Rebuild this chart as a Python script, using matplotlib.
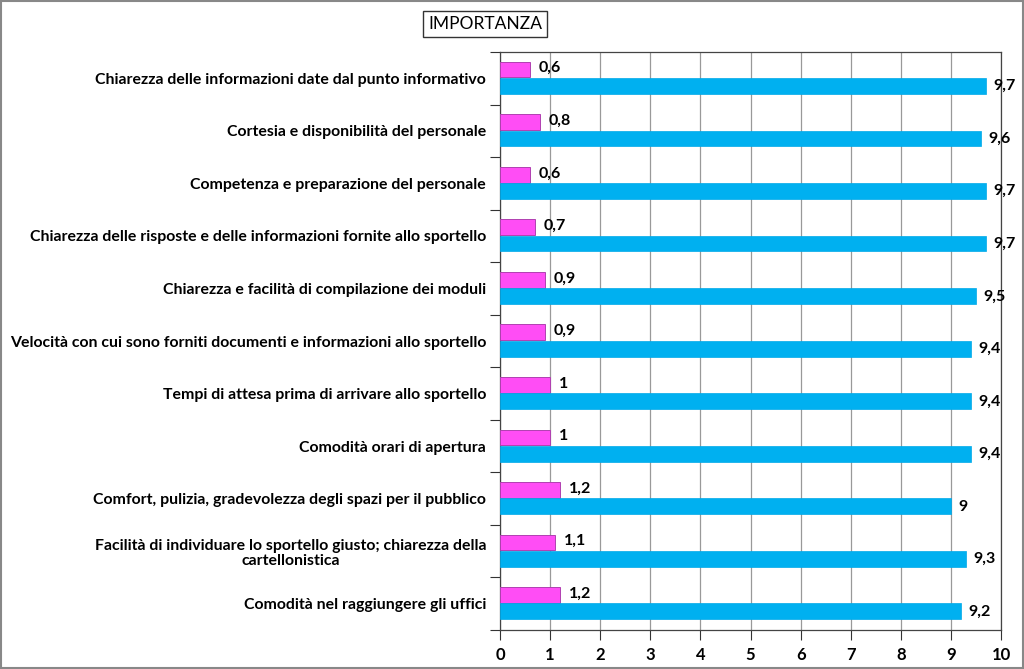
import matplotlib
matplotlib.use("Agg")
import matplotlib.pyplot as plt
import numpy as np
from matplotlib.patches import Rectangle

categories = [
    "Chiarezza delle informazioni date dal punto informativo",
    "Cortesia e disponibilità del personale",
    "Competenza e preparazione del personale",
    "Chiarezza delle risposte e delle informazioni fornite allo sportello",
    "Chiarezza e facilità di compilazione dei moduli",
    "Velocità con cui sono forniti documenti e informazioni allo sportello",
    "Tempi di attesa prima di arrivare allo sportello",
    "Comodità orari di apertura",
    "Comfort, pulizia, gradevolezza degli spazi per il pubblico",
    "Facilità di individuare lo sportello giusto; chiarezza della\ncartellonistica",
    "Comodità nel raggiungere gli uffici",
]
pink_values = [0.6, 0.8, 0.6, 0.7, 0.9, 0.9, 1.0, 1.0, 1.2, 1.1, 1.2]
blue_values = [9.7, 9.6, 9.7, 9.7, 9.5, 9.4, 9.4, 9.4, 9.0, 9.3, 9.2]
x_ticks = list(range(0, 11))
title_text = "IMPORTANZA"

FONT = "Lato"
plt.rcParams['font.family'] = [FONT, 'DejaVu Sans']

fig = plt.figure(figsize=(10.24, 6.69), dpi=100)
ax = fig.add_axes([500/1024, 1-630/669, 501/1024, (630-52)/669])

n = len(categories)
y = np.arange(n)
h = 0.3
ax.barh(y - 0.165, pink_values, height=h, color="#FF4DF5", edgecolor="#B040B0", linewidth=0.7, zorder=3)
ax.barh(y + 0.145, blue_values, height=h, color="#00B0F0", edgecolor="#00A8E8", linewidth=0.5, zorder=3)

def fmt(v):
    return ("%g" % v).replace(".", ",")

for yi, pv, bv in zip(y, pink_values, blue_values):
    ax.text(pv + 0.18, yi - 0.19, fmt(pv), va="center", ha="left",
            fontsize=11.5, fontweight="bold", color="black", zorder=4)
    ax.text(bv + 0.14, yi + 0.15, fmt(bv), va="center", ha="left",
            fontsize=11.5, fontweight="bold", color="black", zorder=4)

ax.set_xlim(0, 10)
ax.set_ylim(n - 0.5, -0.5)
ax.set_xticks(x_ticks)
ax.set_xticklabels([str(t) for t in x_ticks], fontsize=12, fontweight="bold")
ax.set_yticks(y)
ax.set_yticklabels(categories, fontsize=11.4, fontweight="bold")
for lbl in ax.get_yticklabels():
    lbl.set_multialignment("center")
    lbl.set_linespacing(1.1)
ax.set_yticks(np.arange(n + 1) - 0.5, minor=True)
ax.tick_params(axis="y", which="major", length=0, pad=10)
ax.tick_params(axis="y", which="minor", length=7, width=0.8, direction="out", color="#333333")
ax.tick_params(axis="x", which="major", length=7, width=0.8, direction="out", color="#333333", pad=5)

ax.grid(axis="x", color="#999999", linewidth=0.9, zorder=0)
ax.set_axisbelow(True)
for side, sp in ax.spines.items():
    sp.set_color("#444444")
    sp.set_linewidth(0.9)

fig.text(485/1024, 1-24/669, title_text, ha="center", va="center", fontsize=12.5,
         color="black",
         bbox=dict(boxstyle="square,pad=0.3", facecolor="white", edgecolor="#333333", linewidth=1.0))

fig.patches.append(Rectangle((0.001, 0.001), 0.998, 0.997, transform=fig.transFigure,
                             fill=False, edgecolor="#888888", linewidth=1.5))

fig.savefig("out.png", dpi=100)
